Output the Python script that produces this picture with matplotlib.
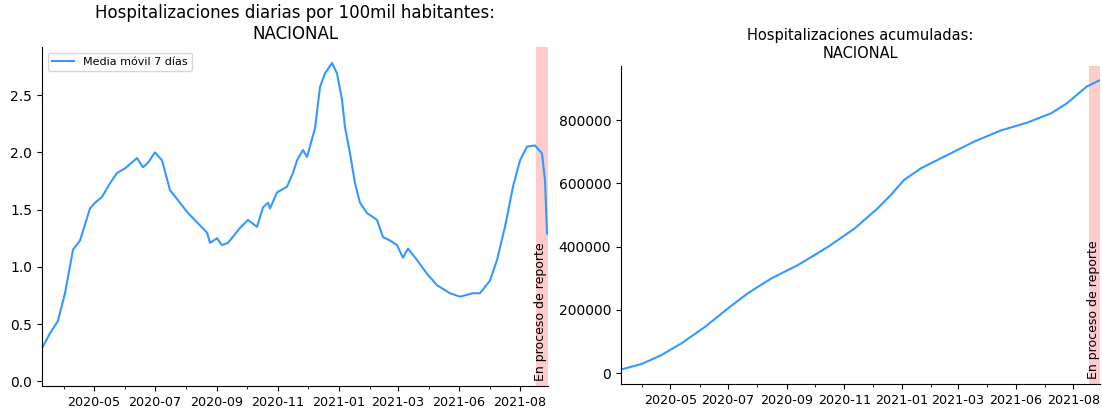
import pandas as pd
import matplotlib.pyplot as plt
import matplotlib.dates as mdates

# daily hospitalizations per 100k (7-day moving average); offsets in days from 2020-05-01
daily_offsets = [-52, -44, -36, -29, -21, -14, -4, 1, 8, 16, 23, 31, 43, 49, 54, 61, 68,
                 76, 86, 93, 104, 113, 116, 123, 128, 134, 146, 154, 163, 169, 174, 176,
                 183, 193, 199, 203, 209, 213, 221, 226, 231, 238, 243, 248, 251, 256,
                 261, 266, 273, 283, 289, 296, 303, 309, 314, 323, 333, 343, 356, 366,
                 379, 386, 396, 403, 411, 419, 426, 433, 441, 448, 451, 453]
daily_values = [0.29, 0.42, 0.53, 0.77, 1.15, 1.23, 1.51, 1.56, 1.61, 1.73, 1.82, 1.86,
                1.95, 1.87, 1.91, 2.00, 1.93, 1.67, 1.56, 1.48, 1.38, 1.30, 1.21, 1.25,
                1.19, 1.21, 1.34, 1.41, 1.35, 1.52, 1.56, 1.51, 1.65, 1.70, 1.82, 1.93,
                2.02, 1.96, 2.21, 2.57, 2.69, 2.78, 2.69, 2.46, 2.22, 1.99, 1.73, 1.56,
                1.47, 1.41, 1.26, 1.23, 1.19, 1.08, 1.16, 1.06, 0.94, 0.84, 0.77, 0.74,
                0.77, 0.77, 0.88, 1.06, 1.35, 1.70, 1.93, 2.05, 2.06, 1.99, 1.76, 1.29]

# cumulative hospitalizations; offsets in days from 2020-05-01
cum_offsets = [-51, -30, -9, 12, 37, 61, 82, 107, 135, 167, 195, 219, 233, 247, 265, 293,
               321, 349, 377, 402, 419, 440, 453]
cum_values = [12600, 29400, 57800, 94800, 147000, 205000, 253000, 300000, 342000, 400000,
              458000, 521000, 563000, 611000, 648000, 690000, 732000, 767000, 792000,
              821000, 853000, 906000, 925000]

tick_dates = ['2020-05-01', '2020-07-01', '2020-09-01', '2020-11-01', '2021-01-01',
              '2021-03-01', '2021-05-01', '2021-07-01']
tick_labels = ['2020-05', '2020-07', '2020-09', '2020-11', '2021-01', '2021-03', '2021-06', '2021-08']

base = pd.Timestamp('2020-05-01')
daily_dates = [base + pd.Timedelta(days=d) for d in daily_offsets]
cum_dates = [base + pd.Timedelta(days=d) for d in cum_offsets]
ticks = [pd.Timestamp(t) for t in tick_dates]
x_start = base - pd.Timedelta(days=52)
shade_start = base + pd.Timedelta(days=442)
x_end = base + pd.Timedelta(days=454)

color = '#3399ff'
fig = plt.figure(figsize=(11.02, 4.15), dpi=100)
ax1 = fig.add_axes([42/1102, 29/415, 506/1102, 339/415])
ax2 = fig.add_axes([621/1102, 31/415, 479/1102, 318/415])

ax1.plot(daily_dates, daily_values, color=color, label='Media móvil 7 días')
ax1.set_title('Hospitalizaciones diarias por 100mil habitantes:\nNACIONAL', fontsize=12)
ax1.legend(loc='upper left', fontsize=8)
ax1.set_ylim(-0.04, 2.92)

ax2.plot(cum_dates, cum_values, color=color)
ax2.set_title('Hospitalizaciones acumuladas:\nNACIONAL', fontsize=10.5)
ax2.set_ylim(-34000, 971000)

for ax in (ax1, ax2):
    ax.axvspan(shade_start, x_end, color='red', alpha=0.2, lw=0)
    y0, y1 = ax.get_ylim()
    ax.text(shade_start + pd.Timedelta(days=5), y0 + 0.015 * (y1 - y0),
            'En proceso de reporte', rotation=90, fontsize=9, ha='center', va='bottom')
    ax.set_xlim(x_start, x_end)
    ax.set_xticks(ticks)
    ax.set_xticklabels(tick_labels)
    ax.xaxis.set_minor_locator(mdates.MonthLocator())
    ax.tick_params(axis='x', labelsize=9.2)
    ax.spines['top'].set_visible(False)
    ax.spines['right'].set_visible(False)

plt.savefig('out.png')
